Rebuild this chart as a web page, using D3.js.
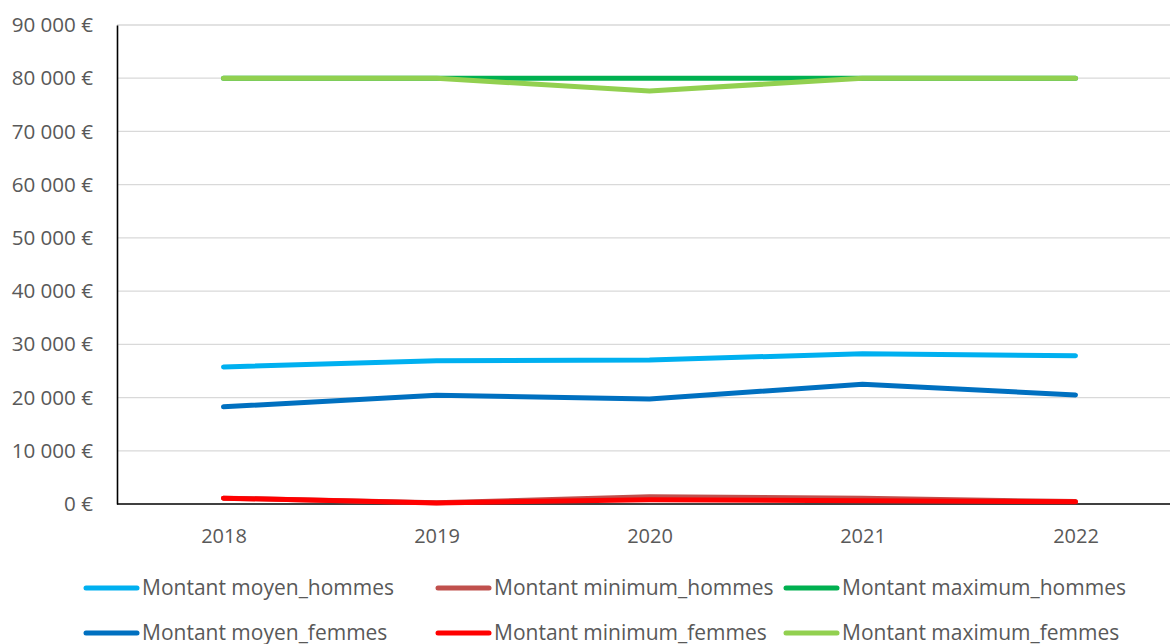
<!DOCTYPE html>
<html>
<head>
<meta charset="utf-8">
<script src="https://cdn.jsdelivr.net/npm/d3@7/dist/d3.min.js"></script>
<style>
  html, body { margin: 0; padding: 0; background: #fff; }
  svg { display: block; font-family: "Open Sans", sans-serif; }
</style>
</head>
<body>
<svg id="chart" width="1170" height="644"></svg>
<script>
// Years on the x axis
const years = ["2018", "2019", "2020", "2021", "2022"];

// Series values (€)
const moyenHommes   = [25750, 26900, 27050, 28250, 27850];
const minimumHommes = [1100, 250, 1350, 1100, 450];
const maximumHommes = [80000, 80000, 80000, 80000, 80000];
const moyenFemmes   = [18250, 20450, 19750, 22500, 20500];
const minimumFemmes = [1100, 200, 800, 600, 400];
const maximumFemmes = [80000, 80000, 77600, 80000, 80000];

// Y axis ticks
const yTicks = [0, 10000, 20000, 30000, 40000, 50000, 60000, 70000, 80000, 90000];

const seriesNames = [
  "Montant moyen_hommes", "Montant minimum_hommes", "Montant maximum_hommes",
  "Montant moyen_femmes", "Montant minimum_femmes", "Montant maximum_femmes"
];
const seriesColors = ["#00B0F0", "#C0504D", "#00B050", "#0070C0", "#FF0000", "#92D050"];
const seriesValues = [moyenHommes, minimumHommes, maximumHommes, moyenFemmes, minimumFemmes, maximumFemmes];

const series = seriesNames.map((name, i) => ({
  name, color: seriesColors[i], values: seriesValues[i]
}));

const svg = d3.select("#chart");
const plotLeft = 117, plotRight = 1182, plotTop = 25, plotBottom = 504;

const x = d3.scalePoint().domain(years).range([plotLeft, plotRight]).padding(0.5);
const y = d3.scaleLinear().domain([0, 90000]).range([plotBottom, plotTop]);

const fr = d3.formatLocale({ decimal: ",", thousands: " ", grouping: [3], currency: ["", " €"] });
const fmt = v => fr.format(",.0f")(v) + " €";

// Horizontal gridlines
svg.append("g")
  .selectAll("line")
  .data(yTicks.filter(d => d > 0))
  .join("line")
  .attr("x1", plotLeft).attr("x2", 1170)
  .attr("y1", d => y(d)).attr("y2", d => y(d))
  .attr("stroke", "#D9D9D9").attr("stroke-width", 1.3);

const labelFont = "'Open Sans', sans-serif";

// Y axis
const yAxis = svg.append("g")
  .attr("transform", `translate(${plotLeft},0)`)
  .call(d3.axisLeft(y).tickValues(yTicks).tickFormat(fmt).tickSize(0).tickPadding(24));
yAxis.select(".domain").attr("stroke", "#000").attr("stroke-width", 1.6);
yAxis.selectAll("text").attr("fill", "#595959").style("font-size", "20.6px")
  .style("font-family", labelFont);

// X axis
const xAxis = svg.append("g")
  .attr("transform", `translate(0,${plotBottom})`)
  .call(d3.axisBottom(x).tickSize(0).tickPadding(25));
xAxis.select(".domain").attr("d", `M${plotLeft},0H1170`).attr("stroke", "#000").attr("stroke-width", 1.6);
xAxis.selectAll("text").attr("fill", "#595959").style("font-size", "20px")
  .style("font-family", labelFont);

// Lines
const line = d3.line().x((d, i) => x(years[i])).y(d => y(d));
svg.append("g")
  .selectAll("path")
  .data(series)
  .join("path")
  .attr("d", d => line(d.values))
  .attr("fill", "none")
  .attr("stroke", d => d.color)
  .attr("stroke-width", 5)
  .attr("stroke-linecap", "round")
  .attr("stroke-linejoin", "round");

// Legend: two rows of three entries
const colX = [84, 436, 784];
const rowY = [588, 633];
const legend = svg.append("g")
  .selectAll("g")
  .data(series)
  .join("g")
  .attr("transform", (d, i) => `translate(${colX[i % 3]},${rowY[Math.floor(i / 3)]})`);
legend.append("line")
  .attr("x1", 2).attr("x2", 53).attr("y1", 0).attr("y2", 0)
  .attr("stroke", d => d.color).attr("stroke-width", 5).attr("stroke-linecap", "round");
legend.append("text")
  .attr("x", 58).attr("y", 0).attr("dy", "0.35em")
  .attr("fill", "#595959").style("font-size", "21px")
  .style("font-family", labelFont)
  .text(d => d.name);
</script>
</body>
</html>
